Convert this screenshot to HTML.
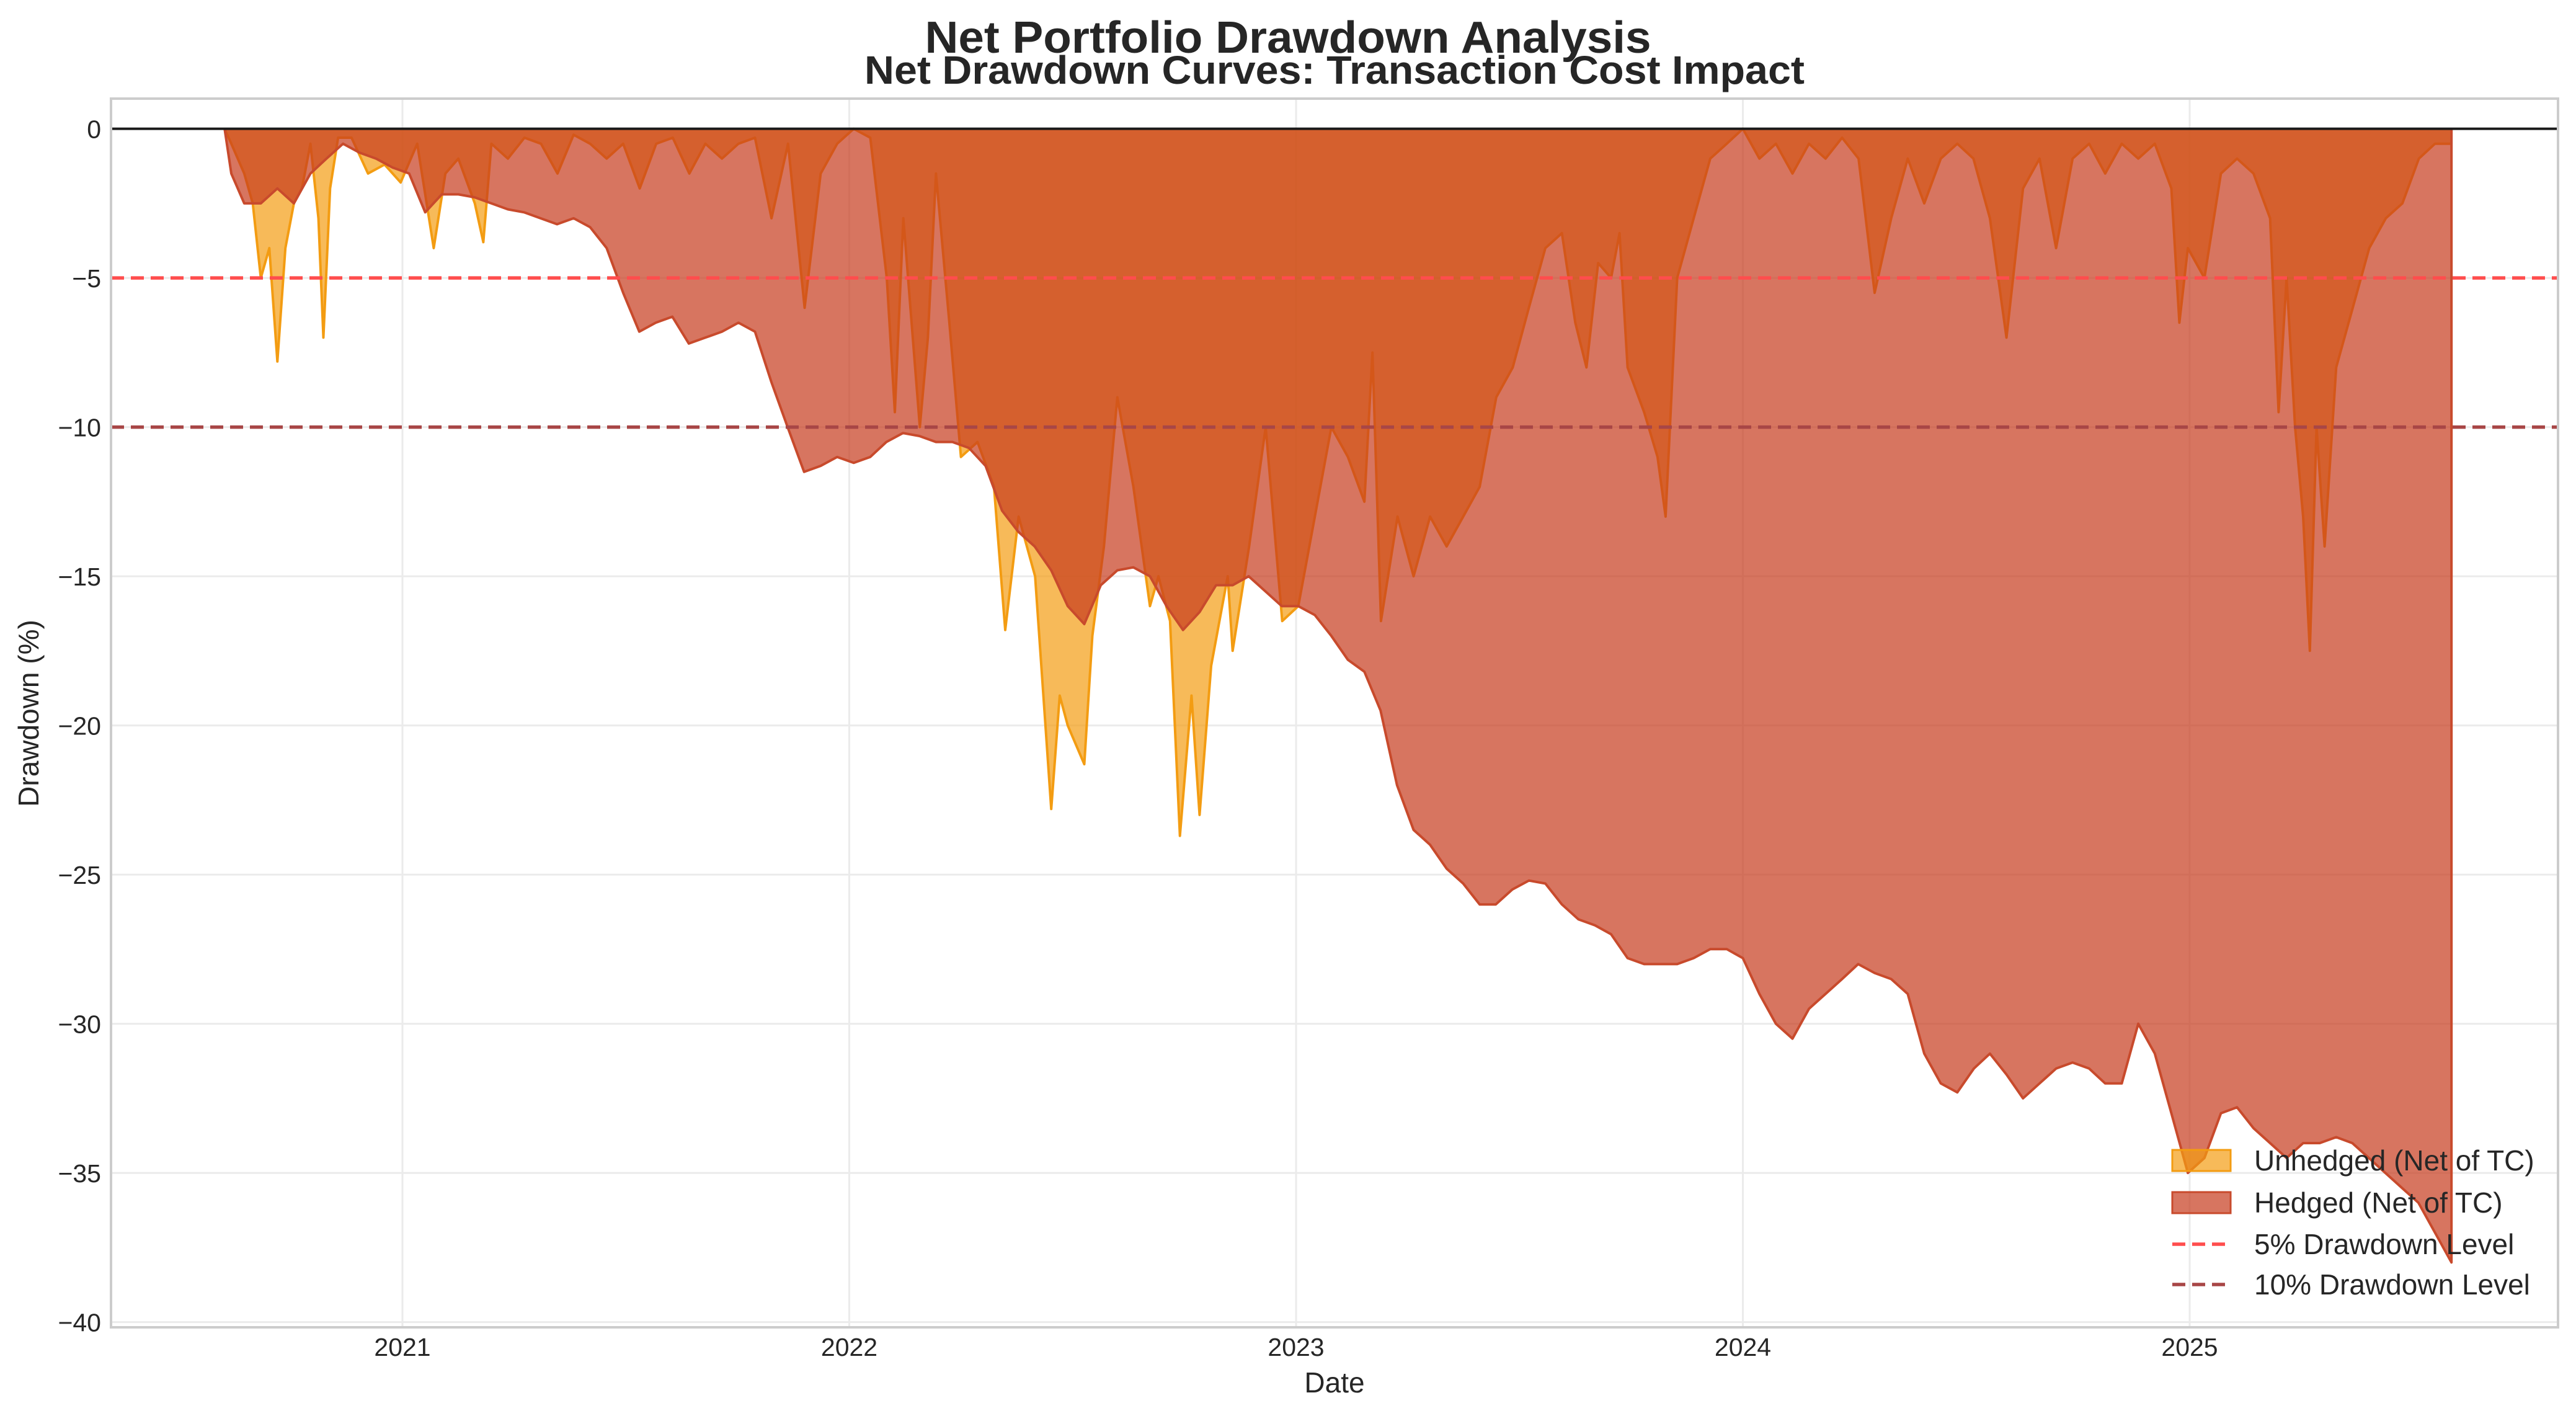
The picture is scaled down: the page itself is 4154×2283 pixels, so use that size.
<!DOCTYPE html>
<html><head><meta charset="utf-8"><style>
html,body{margin:0;padding:0;background:#fff;}
svg{display:block;font-family:"Liberation Sans",Arial,sans-serif;}
</style></head><body>
<svg id="chart" width="4154" height="2283" viewBox="0 0 4154 2283" xmlns="http://www.w3.org/2000/svg">
<rect x="0" y="0" width="4154" height="2283" fill="#fff"/>
<text x="2077" y="85" text-anchor="middle" font-size="72" font-weight="bold" fill="#262626" textLength="1171" lengthAdjust="spacingAndGlyphs">Net Portfolio Drawdown Analysis</text>
<text x="2152" y="135" text-anchor="middle" font-size="64" font-weight="bold" fill="#262626" textLength="1516" lengthAdjust="spacingAndGlyphs">Net Drawdown Curves: Transaction Cost Impact</text>
<g id="grid"></g>
<g id="series"></g>
<g id="refs"></g>
<rect x="179" y="159" width="3946" height="1981" fill="none" stroke="#cccccc" stroke-width="4"/>
<g id="ticks"></g>
<text x="2152" y="2245" text-anchor="middle" font-size="46" fill="#262626">Date</text>
<text x="0" y="0" transform="translate(62,1150) rotate(-90)" text-anchor="middle" font-size="46" fill="#262626">Drawdown (%)</text>
<g id="legend">
<rect x="3503" y="1854" width="94" height="34" fill="rgb(243,156,18)" fill-opacity="0.7" stroke="#f39c12" stroke-width="3"/>
<text x="3635" y="1887" font-size="46" fill="#262626">Unhedged (Net of TC)</text>
<rect x="3503" y="1922" width="94" height="34" fill="rgb(198,59,28)" fill-opacity="0.7" stroke="#c84a2c" stroke-width="3"/>
<text x="3635" y="1955" font-size="46" fill="#262626">Hedged (Net of TC)</text>
<line x1="3503" y1="2006" x2="3597" y2="2006" stroke="#ff4d4d" stroke-width="5.5" stroke-dasharray="21,11"/>
<text x="3635" y="2022" font-size="46" fill="#262626">5% Drawdown Level</text>
<line x1="3503" y1="2071" x2="3597" y2="2071" stroke="#a84646" stroke-width="5.5" stroke-dasharray="21,11"/>
<text x="3635" y="2087" font-size="46" fill="#262626">10% Drawdown Level</text>
</g>
</svg>
<script>
const xTickYears = [2021, 2022, 2023, 2024, 2025];
const xTickLabels = ["2021", "2022", "2023", "2024", "2025"];
const yTickValues = [0, -5, -10, -15, -20, -25, -30, -35, -40];
const yTickLabels = ["0", "\u22125", "\u221210", "\u221215", "\u221220", "\u221225", "\u221230", "\u221235", "\u221240"];
const refLevels = [-5, -10];

const unhedgedDates = [2020.602,2020.617,2020.646,2020.665,2020.683,2020.702,2020.720,2020.738,2020.757,2020.775,2020.794,2020.812,2020.823,2020.838,2020.856,2020.886,2020.923,2020.960,2020.996,2021.033,2021.070,2021.096,2021.125,2021.162,2021.181,2021.199,2021.236,2021.273,2021.310,2021.347,2021.383,2021.420,2021.457,2021.494,2021.531,2021.568,2021.605,2021.642,2021.678,2021.715,2021.752,2021.789,2021.826,2021.863,2021.900,2021.936,2021.973,2022.010,2022.047,2022.084,2022.102,2022.121,2022.158,2022.176,2022.194,2022.224,2022.250,2022.287,2022.324,2022.349,2022.379,2022.416,2022.452,2022.471,2022.489,2022.526,2022.544,2022.570,2022.600,2022.636,2022.673,2022.692,2022.718,2022.740,2022.766,2022.784,2022.810,2022.847,2022.858,2022.895,2022.932,2022.969,2023.005,2023.042,2023.079,2023.116,2023.153,2023.171,2023.190,2023.227,2023.263,2023.300,2023.337,2023.374,2023.411,2023.448,2023.485,2023.521,2023.558,2023.595,2023.625,2023.650,2023.676,2023.705,2023.724,2023.742,2023.779,2023.809,2023.827,2023.853,2023.890,2023.927,2023.964,2024.000,2024.037,2024.074,2024.111,2024.148,2024.185,2024.222,2024.259,2024.295,2024.332,2024.369,2024.406,2024.443,2024.480,2024.516,2024.553,2024.590,2024.627,2024.664,2024.701,2024.738,2024.775,2024.811,2024.848,2024.885,2024.922,2024.959,2024.977,2024.996,2025.033,2025.070,2025.106,2025.143,2025.180,2025.199,2025.217,2025.236,2025.254,2025.269,2025.284,2025.302,2025.328,2025.365,2025.402,2025.439,2025.476,2025.513,2025.549,2025.586];
const unhedgedValues = [0,-0.5,-1.5,-2.5,-5.0,-4.0,-7.8,-4.0,-2.5,-2.0,-0.5,-3.0,-7.0,-2.0,-0.3,-0.3,-1.5,-1.2,-1.8,-0.5,-4.0,-1.5,-1.0,-2.5,-3.8,-0.5,-1.0,-0.3,-0.5,-1.5,-0.2,-0.5,-1.0,-0.5,-2.0,-0.5,-0.3,-1.5,-0.5,-1.0,-0.5,-0.3,-3.0,-0.5,-6.0,-1.5,-0.5,0,-0.3,-5.0,-9.5,-3.0,-10.0,-7.0,-1.5,-6.5,-11.0,-10.5,-12.0,-16.8,-13.0,-15.0,-22.8,-19.0,-20.0,-21.3,-17.0,-14.0,-9.0,-12.0,-16.0,-15.0,-16.5,-23.7,-19.0,-23.0,-18.0,-15.0,-17.5,-14.0,-10.0,-16.5,-16.0,-13.0,-10.0,-11.0,-12.5,-7.5,-16.5,-13.0,-15.0,-13.0,-14.0,-13.0,-12.0,-9.0,-8.0,-6.0,-4.0,-3.5,-6.5,-8.0,-4.5,-5.0,-3.5,-8.0,-9.5,-11.0,-13.0,-5.0,-3.0,-1.0,-0.5,0,-1.0,-0.5,-1.5,-0.5,-1.0,-0.3,-1.0,-5.5,-3.0,-1.0,-2.5,-1.0,-0.5,-1.0,-3.0,-7.0,-2.0,-1.0,-4.0,-1.0,-0.5,-1.5,-0.5,-1.0,-0.5,-2.0,-6.5,-4.0,-5.0,-1.5,-1.0,-1.5,-3.0,-9.5,-5.0,-10.0,-13.0,-17.5,-10.0,-14.0,-8.0,-6.0,-4.0,-3.0,-2.5,-1.0,-0.5,-0.5];

const hedgedDates = [2020.602,2020.617,2020.646,2020.683,2020.720,2020.757,2020.794,2020.830,2020.867,2020.904,2020.941,2020.978,2021.015,2021.051,2021.088,2021.125,2021.162,2021.199,2021.236,2021.272,2021.309,2021.346,2021.383,2021.420,2021.457,2021.494,2021.530,2021.567,2021.604,2021.641,2021.678,2021.715,2021.752,2021.789,2021.826,2021.862,2021.899,2021.936,2021.973,2022.010,2022.047,2022.083,2022.120,2022.157,2022.194,2022.231,2022.268,2022.305,2022.342,2022.378,2022.415,2022.452,2022.489,2022.526,2022.563,2022.600,2022.636,2022.673,2022.710,2022.747,2022.784,2022.821,2022.858,2022.894,2022.931,2022.968,2023.005,2023.042,2023.079,2023.116,2023.153,2023.189,2023.226,2023.263,2023.300,2023.337,2023.374,2023.411,2023.447,2023.484,2023.521,2023.558,2023.595,2023.632,2023.669,2023.705,2023.742,2023.779,2023.816,2023.853,2023.890,2023.927,2023.964,2024.000,2024.037,2024.074,2024.111,2024.148,2024.185,2024.222,2024.258,2024.295,2024.332,2024.369,2024.406,2024.443,2024.480,2024.517,2024.553,2024.590,2024.627,2024.664,2024.701,2024.738,2024.775,2024.811,2024.848,2024.885,2024.922,2024.959,2024.996,2025.033,2025.070,2025.106,2025.143,2025.180,2025.217,2025.254,2025.291,2025.328,2025.364,2025.401,2025.438,2025.475,2025.512,2025.549,2025.586];
const hedgedValues = [0,-1.5,-2.5,-2.5,-2.0,-2.5,-1.5,-1.0,-0.5,-0.8,-1.0,-1.3,-1.5,-2.8,-2.2,-2.2,-2.3,-2.5,-2.7,-2.8,-3.0,-3.2,-3.0,-3.3,-4.0,-5.5,-6.8,-6.5,-6.3,-7.2,-7.0,-6.8,-6.5,-6.8,-8.5,-10.0,-11.5,-11.3,-11.0,-11.2,-11.0,-10.5,-10.2,-10.3,-10.5,-10.5,-10.7,-11.3,-12.8,-13.5,-14.0,-14.8,-16.0,-16.6,-15.3,-14.8,-14.7,-15.0,-16.0,-16.8,-16.2,-15.3,-15.3,-15.0,-15.5,-16.0,-16.0,-16.3,-17.0,-17.8,-18.2,-19.5,-22.0,-23.5,-24.0,-24.8,-25.3,-26.0,-26.0,-25.5,-25.2,-25.3,-26.0,-26.5,-26.7,-27.0,-27.8,-28.0,-28.0,-28.0,-27.8,-27.5,-27.5,-27.8,-29.0,-30.0,-30.5,-29.5,-29.0,-28.5,-28.0,-28.3,-28.5,-29.0,-31.0,-32.0,-32.3,-31.5,-31.0,-31.7,-32.5,-32.0,-31.5,-31.3,-31.5,-32.0,-32.0,-30.0,-31.0,-33.0,-35.0,-34.5,-33.0,-32.8,-33.5,-34.0,-34.5,-34.0,-34.0,-33.8,-34.0,-34.5,-35.0,-35.5,-36.0,-37.0,-38.0];

const NS = "http://www.w3.org/2000/svg";
const plotL = 179, plotR = 4125, plotT = 159, plotB = 2140;
function xScale(yr){ return 649 + (yr - 2021) * 720.5; }
function yScale(v){ return 207.6 - v * 48.1; }
function mk(tag, attrs, parent){
  const el = document.createElementNS(NS, tag);
  for (const k in attrs) el.setAttribute(k, attrs[k]);
  parent.appendChild(el);
  return el;
}
const grid = document.getElementById('grid');
const ticks = document.getElementById('ticks');
xTickYears.forEach((yr, i) => {
  const x = xScale(yr);
  const g = mk('line', {x1:x, y1:plotT, x2:x, y2:plotB, stroke:'#ebebeb', 'stroke-width':3}, grid);
  
  
  const t = mk('text', {x:x, y:2186, 'text-anchor':'middle', 'font-size':41, fill:'#262626'}, ticks);
  t.textContent = xTickLabels[i];
  
  
});
yTickValues.forEach((v, i) => {
  const y = yScale(v);
  const g = mk('line', {x1:plotL, y1:y, x2:plotR, y2:y, stroke:'#ebebeb', 'stroke-width':3}, grid);
  
  
  const t = mk('text', {x:163, y:y + 15, 'text-anchor':'end', 'font-size':41, fill:'#262626'}, ticks);
  t.textContent = yTickLabels[i];
  
  
});
function areaPath(dates, vals){
  let d = 'M' + xScale(dates[0]).toFixed(1) + ',' + yScale(0).toFixed(1);
  for (let i = 0; i < dates.length; i++) d += 'L' + xScale(dates[i]).toFixed(1) + ',' + yScale(vals[i]).toFixed(1);
  d += 'L' + xScale(dates[dates.length-1]).toFixed(1) + ',' + yScale(0).toFixed(1) + 'Z';
  return d;
}
function linePath(dates, vals){
  let d = '';
  for (let i = 0; i < dates.length; i++) d += (i ? 'L' : 'M') + xScale(dates[i]).toFixed(1) + ',' + yScale(vals[i]).toFixed(1);
  return d;
}
const series = document.getElementById('series');
const ua = mk('path', {d:areaPath(unhedgedDates, unhedgedValues), fill:'rgb(243,156,18)', 'fill-opacity':0.7, stroke:'none'}, series);


const ul = mk('path', {d:linePath(unhedgedDates, unhedgedValues), fill:'none', stroke:'#f39c12', 'stroke-width':4, 'stroke-linejoin':'round'}, series);


const ha = mk('path', {d:areaPath(hedgedDates, hedgedValues), fill:'rgb(198,59,28)', 'fill-opacity':0.7, stroke:'none'}, series);


const hl = mk('path', {d:linePath(hedgedDates, hedgedValues) + 'L' + xScale(hedgedDates[hedgedDates.length-1]).toFixed(1) + ',' + yScale(0).toFixed(1), fill:'none', stroke:'#c84a2c', 'stroke-width':4, 'stroke-linejoin':'round'}, series);


const refs = document.getElementById('refs');
const zl = mk('line', {x1:plotL, y1:yScale(0), x2:plotR, y2:yScale(0), stroke:'#1a1a1a', 'stroke-width':4}, refs);


const refColors = ['#ff4d4d', '#a84646'];
refLevels.forEach((lv, i) => {
  const l = mk('line', {x1:plotL, y1:yScale(lv), x2:plotR, y2:yScale(lv), stroke:refColors[i], 'stroke-width':5.5, 'stroke-dasharray':'21,11'}, refs);
  
  
});
</script>
</body></html>
